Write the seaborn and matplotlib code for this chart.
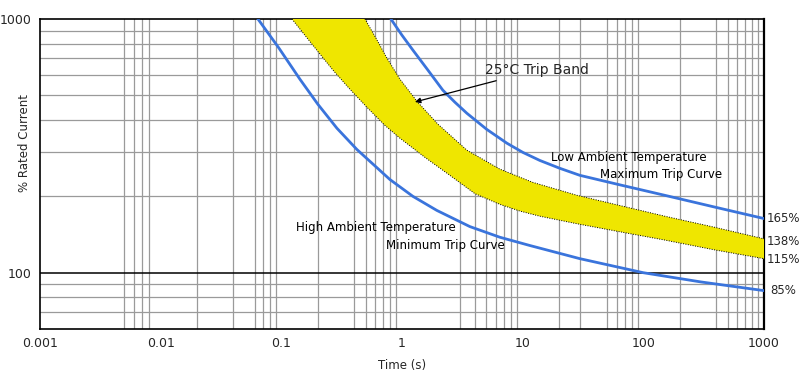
import numpy as np
import matplotlib
matplotlib.use("Agg")
import matplotlib.pyplot as plt
import seaborn as sns
from matplotlib.ticker import FixedLocator, NullFormatter

# --- data (time in s, current in % rated) ---
min_t = [0.064, 0.0955, 0.1426, 0.201, 0.289, 0.423, 0.794, 1.231, 1.945, 3.65,
         6.47, 11.48, 29.8, 100, 299, 1000]
min_i = [1000, 768, 579, 461, 371, 306, 233, 200, 176, 152,
         138, 128, 113.6, 100, 92, 85]

max_t = [0.809, 0.998, 1.231, 1.639, 2.18, 2.743, 3.45, 5.05, 7.4, 10.04,
         13.88, 20.3, 29.8, 63.9, 156.6, 399, 1000]
max_i = [1000, 864, 754, 629, 524, 470, 425, 367, 324, 298,
         277, 258, 242, 222, 201, 181, 163.5]

band_hi_t = [0.493, 0.608, 0.750, 0.962, 1.329, 1.984, 3.45, 6.47, 12.15, 28.1,
             63.9, 150.7, 391, 1000]
band_hi_i = [1000, 841, 701, 579, 474, 385, 304, 256, 227, 202,
             184, 167, 151, 136]

band_lo_t = [0.1225, 0.1795, 0.2677, 0.370, 0.512, 0.721, 0.962, 1.548, 2.494, 4.018,
             6.47, 9.48, 13.88, 28.1, 63.9, 150.7, 391, 1000]
band_lo_i = [1000, 796, 629, 529, 449, 381, 339, 285, 242, 205,
             186, 175, 167, 156, 145, 134.5, 123, 113.6]

x_ticks = [0.001, 0.01, 0.1, 1, 10, 100, 1000]
x_labels = ["0.001", "0.01", "0.1", "1", "10", "100", "1000"]
y_ticks = [100, 1000]
y_labels = ["100", "1000"]

end_labels = ["165%", "138%", "115%", "85%"]
end_values = [163, 133, 112.5, 85]

# grid lines in the original are a bit irregular per decade
x_grid = [0.005, 0.006, 0.007, 0.008, 0.01,
          0.02, 0.04, 0.06, 0.07, 0.08, 0.09, 0.1,
          0.2, 0.4, 0.5, 0.6, 0.7, 0.8, 0.9,
          3, 4, 5, 6, 7, 8, 9, 10,
          20, 30, 50, 60, 70, 80, 90, 100,
          200, 400, 500, 600, 700, 800, 900]
y_grid = [70, 80, 90, 200, 300, 400, 500, 600, 700, 800, 900]

sns.set_style("white")
plt.rcParams['font.family'] = ['DejaVu Sans']

fig = plt.figure(figsize=(8, 3.77), dpi=100)
ax = fig.add_axes([0.05, 0.1273, 0.905, 0.8223])
ax.set_xscale("log")
ax.set_yscale("log")
ax.set_xlim(0.001, 1000)
ax.set_ylim(60, 1000)

# grid
ax.xaxis.set_minor_locator(FixedLocator(x_grid))
ax.yaxis.set_minor_locator(FixedLocator(y_grid))
ax.xaxis.set_minor_formatter(NullFormatter())
ax.yaxis.set_minor_formatter(NullFormatter())
ax.grid(which="minor", color="#9a9a9a", linewidth=0.9)
ax.axhline(100, color="black", linewidth=1.1, zorder=2)

# trip band
band_x = np.concatenate([band_hi_t, band_lo_t[::-1]])
band_y = np.concatenate([band_hi_i, band_lo_i[::-1]])
ax.fill(band_x, band_y, color="#efe600", linewidth=0, zorder=3)
ax.plot(band_hi_t, band_hi_i, color="black", linestyle=(0, (1, 1.5)), linewidth=0.7, zorder=4)
ax.plot(band_lo_t, band_lo_i, color="black", linestyle=(0, (1, 1.5)), linewidth=0.7, zorder=4)

# min / max trip curves
blue = "#3a74dc"
sns.lineplot(x=min_t, y=min_i, ax=ax, color=blue, linewidth=2, zorder=5)
sns.lineplot(x=max_t, y=max_i, ax=ax, color=blue, linewidth=2, zorder=5)

ax.set_xticks(x_ticks)
ax.set_xticklabels(x_labels)
ax.set_yticks(y_ticks)
ax.set_yticklabels(y_labels)
ax.tick_params(which="major", length=3, width=0.8, labelsize=9, pad=3, color="black")
ax.tick_params(which="minor", length=0)

for s in ax.spines.values():
    s.set_color("black")
    s.set_linewidth(1.2)
ax.spines["right"].set_linewidth(1.6)

ax.set_xlabel("Time (s)", fontsize=8.5, labelpad=6)
ax.set_ylabel("% Rated Current", fontsize=8.5)
ax.yaxis.set_label_coords(-0.012, 0.6)

# annotations
txt = dict(fontsize=8.5, color="black", va="center", zorder=6)
ax.text(17.1, 285, "Low Ambient Temperature", **txt)
ax.text(43.6, 244, "Maximum Trip Curve", **txt)
ax.text(0.132, 150.6, "High Ambient Temperature", **txt)
ax.text(0.736, 128, "Minimum Trip Curve", **txt)
ax.annotate("25°C Trip Band", xy=(1.28, 471), xytext=(4.86, 629),
            fontsize=10, va="center", ha="left", zorder=6,
            arrowprops=dict(arrowstyle="-|>", color="black", lw=0.9,
                            mutation_scale=8, shrinkA=1, shrinkB=0))

for lab, val in zip(end_labels, end_values):
    off = 1.009 if lab == "85%" else 1.004
    ax.text(off, val, lab, transform=ax.get_yaxis_transform(),
            fontsize=8.5, va="center", ha="left", clip_on=False)

fig.savefig("out.png", dpi=100)
